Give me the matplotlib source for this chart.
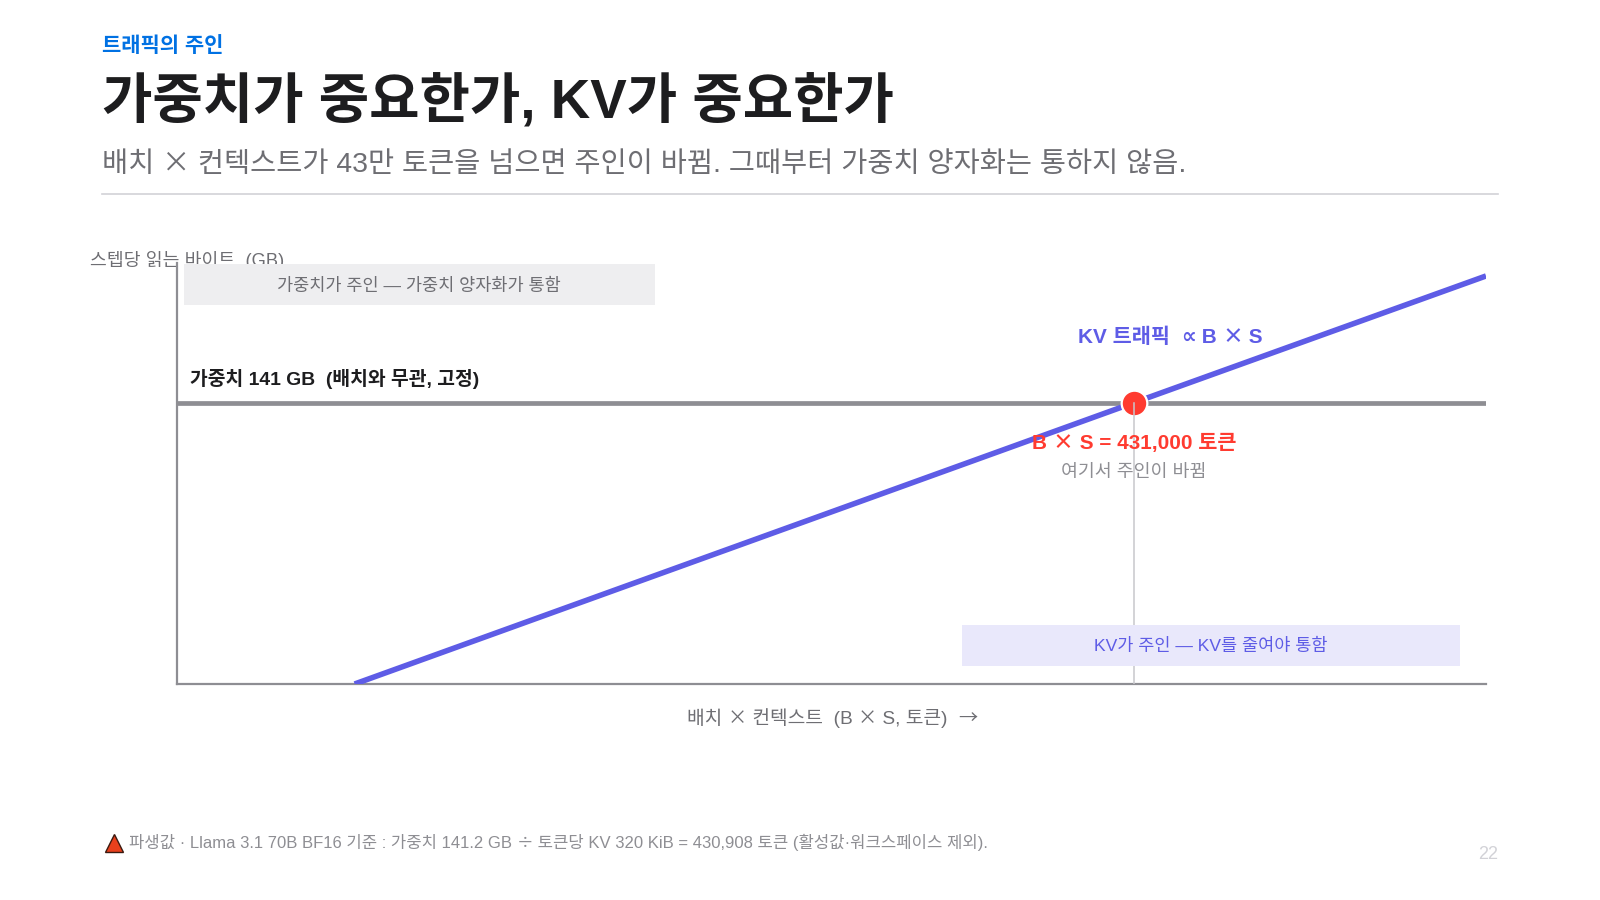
"""Crossover of KV traffic and weight reads per step."""
import re

import matplotlib
matplotlib.use("Agg")
import matplotlib.pyplot as plt
from matplotlib.patches import Rectangle

FONTS = ["Liberation Sans", "Noto Sans CJK KR"]
plt.rcParams["font.family"] = FONTS

W, H = 1600, 900

# data, tokens on x and GB on y
X_LIM = [0, 589500]
Y_LIM = [0, 211]
WEIGHT_X = [0, 589500]
WEIGHT_Y = [141, 141]
KV_X = [80000, 431000, 589500]
KV_Y = [0, 141, 204.5]
CROSS_X = 431000
CROSS_Y = 141

BLUE = "#5e5ce6"
RED = "#ff3b30"
GREY = "#8e8e93"
INK = "#1d1d1f"


def px(x, y):
    return x / W, 1 - y / H


def label(fig, x, y, s, size, color, weight="normal", ha="left", zorder=5):
    # y is the baseline, size in pixels. The signs that should look wide get their own run
    renderer = fig.canvas.get_renderer()
    parts = [p for p in re.split("([×÷→∝])", s) if p]
    runs = []
    total = 0
    for part in parts:
        family = FONTS
        if part in "×÷→":
            family = ["Noto Sans CJK KR"]
        elif part == "∝":
            family = ["DejaVu Sans"]
        fx, fy = px(0, y)
        t = fig.text(fx, fy, part, fontsize=size * 0.72, color=color, fontweight=weight,
                     family=family, ha="left", va="baseline", zorder=zorder)
        width = t.get_window_extent(renderer).width
        runs.append((t, width))
        total += width
    start = x - total / 2 if ha == "center" else x - total if ha == "right" else x
    for t, width in runs:
        t.set_x(start / W)
        start += width


def band(fig, x0, y0, x1, y1, color, zorder):
    fx, fy = px(x0, y1)
    fig.add_artist(Rectangle((fx, fy), (x1 - x0) / W, (y1 - y0) / H, color=color,
                             lw=0, transform=fig.transFigure, zorder=zorder))


fig = plt.figure(figsize=(16, 9), dpi=100, facecolor="white")

left, bottom = px(177, 684)
right, top = px(1486, 263)
ax = fig.add_axes([left, bottom, right - left, top - bottom])
ax.set_facecolor("none")
ax.set_zorder(3)
ax.set_xlim(X_LIM)
ax.set_ylim(Y_LIM)
ax.set_xticks([])
ax.set_yticks([])
for side in ("top", "right"):
    ax.spines[side].set_visible(False)
for side in ("left", "bottom"):
    ax.spines[side].set_color(GREY)
    ax.spines[side].set_linewidth(1.6)

ax.plot(WEIGHT_X, WEIGHT_Y, color=GREY, lw=3.4, solid_capstyle="butt", zorder=2)
ax.plot(KV_X, KV_Y, color=BLUE, lw=4, solid_capstyle="butt", zorder=3)
ax.scatter([CROSS_X], [CROSS_Y], s=340, color=RED, edgecolor="white", linewidth=1.6, zorder=4)
ax.plot([CROSS_X, CROSS_X], [0, CROSS_Y], color="#c7c7cc", lw=1.1, zorder=5)

# header
label(fig, 102, 52, "트래픽의 주인", 21, "#0071e3", "bold")
label(fig, 102, 118, "가중치가 중요한가, KV가 중요한가", 54.8, INK, "bold")
label(fig, 102, 172, "배치 × 컨텍스트가 43만 토큰을 넘으면 주인이 바뀜. 그때부터 가중치 양자화는 통하지 않음.", 28.35, "#6e6e73")
fx0, fy0 = px(102, 194)
fx1, _ = px(1498, 194)
fig.add_artist(plt.Line2D([fx0, fx1], [fy0, fy0], color="#d2d2d7", lw=1.2, zorder=1))

# axis titles, the grey band sits over the y title
label(fig, 90, 266, "스텝당 읽는 바이트  (GB)", 18.3, "#6e6e73", zorder=1)
label(fig, 832, 724, "배치 × 컨텍스트  (B × S, 토큰)  →", 19.2, "#6e6e73", ha="center")

band(fig, 184, 264, 655, 305, "#eeeef0", 2)
label(fig, 419, 291, "가중치가 주인 — 가중치 양자화가 통함", 17.5, "#6e6e73", ha="center")
label(fig, 190, 385, "가중치 141 GB  (배치와 무관, 고정)", 19.3, INK, "bold")
label(fig, 1170, 343, "KV 트래픽  ∝ B × S", 20.8, BLUE, "bold", ha="center")
label(fig, 1134, 449, "B × S = 431,000 토큰", 20.8, RED, "bold", ha="center", zorder=6)
label(fig, 1134, 477, "여기서 주인이 바뀜", 18.4, GREY, ha="center", zorder=2)
band(fig, 962, 625, 1460, 666, "#e9e8fb", 6)
label(fig, 1211, 651, "KV가 주인 — KV를 줄여야 통함", 17.5, BLUE, ha="center", zorder=7)

# footnote
overlay = fig.add_axes([0, 0, 1, 1], facecolor="none")
overlay.set_xlim(0, W)
overlay.set_ylim(H, 0)
overlay.axis("off")
overlay.plot([113.5], [843], marker="^", ms=12.5, mfc="#e8401c", mec="#3a1a10", mew=1, ls="none")
label(fig, 129, 848, "파생값 · Llama 3.1 70B BF16 기준 : 가중치 141.2 GB ÷ 토큰당 KV 320 KiB = 430,908 토큰 (활성값·워크스페이스 제외).", 16.68, GREY)
label(fig, 1498, 859, "22", 18, "#d2d2d7", ha="right")

fig.savefig("out.png", dpi=100)
